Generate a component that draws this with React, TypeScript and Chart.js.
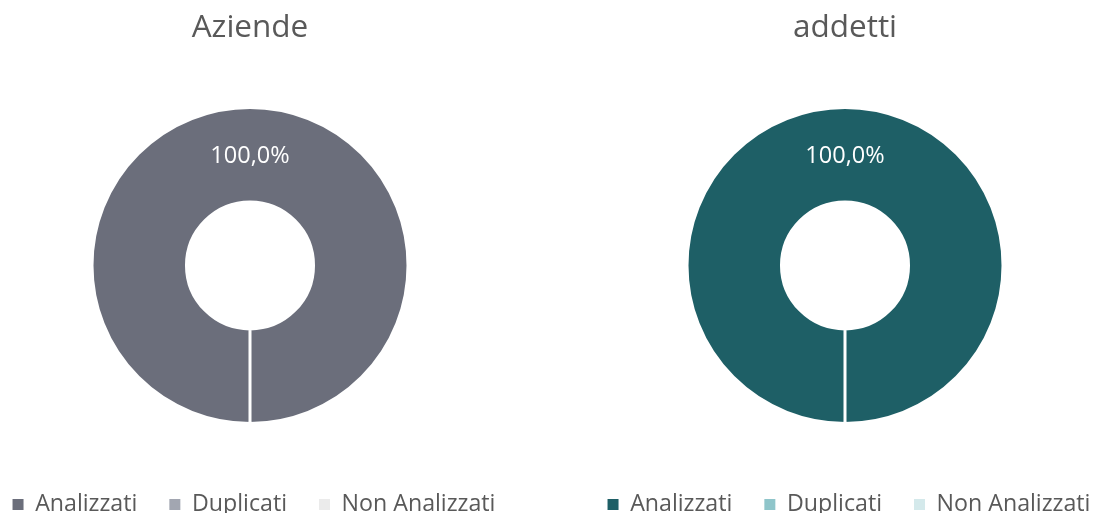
import React, { useEffect, useRef } from 'react';
import { Chart, registerables } from 'chart.js';

Chart.register(...registerables);

const categories = ['Analizzati', 'Duplicati', 'Non Analizzati'];
const aziendeValues = [100, 0, 0];
const addettiValues = [100, 0, 0];
const aziendeColors = ['#6b6e7b', '#a2a6b1', '#ebebeb'];
const addettiColors = ['#1e5f66', '#8fc5ca', '#d4e9eb'];
const chartTitles = ['Aziende', 'addetti'];

const FONT = "'Open Sans', 'Noto Sans', sans-serif";
const TEXT_COLOR = '#595959';

const dataLabelPlugin = {
  id: 'dataLabels',
  afterDatasetsDraw(chart: any) {
    const ctx = chart.ctx;
    const ds = chart.data.datasets[0];
    const values: number[] = ds.data as number[];
    const total = values.reduce((a, b) => a + b, 0);
    const meta = chart.getDatasetMeta(0);
    ctx.save();
    ctx.fillStyle = '#ffffff';
    ctx.font = `23.5px ${FONT}`;
    ctx.textAlign = 'center';
    ctx.textBaseline = 'middle';
    meta.data.forEach((arc: any, i: number) => {
      const v = values[i];
      if (!v) return;
      const pos = arc.tooltipPosition();
      const txt = ((v / total) * 100).toFixed(1).replace('.', ',') + '%';
      ctx.fillText(txt, pos.x, pos.y + 2);
    });
    ctx.restore();
  },
};

const legendShiftPlugin = {
  id: 'legendShift',
  afterLayout(chart: any) {
    if (chart.legend) {
      chart.legend.left += 4;
      chart.legend.right += 4;
    }
  },
};

function DoughnutPanel(props: { title: string; values: number[]; colors: string[]; left: number }) {
  const ref = useRef<HTMLCanvasElement | null>(null);
  useEffect(() => {
    if (!ref.current) return;
    const chart = new Chart(ref.current, {
      type: 'doughnut',
      data: {
        labels: categories,
        datasets: [
          {
            data: props.values,
            backgroundColor: props.colors,
            borderColor: '#ffffff',
            borderWidth: 3,
          },
        ],
      },
      options: {
        responsive: false,
        maintainAspectRatio: false,
        animation: false,
        devicePixelRatio: 1,
        events: [],
        rotation: 180,
        cutout: '40.2%',
        radius: 158,
        layout: { padding: 0 },
        plugins: {
          tooltip: { enabled: false },
          title: {
            display: true,
            text: props.title,
            color: TEXT_COLOR,
            font: { family: FONT, size: 31.5, weight: 'normal' },
            padding: { top: 9.5, bottom: 22.7 },
          },
          legend: {
            display: true,
            position: 'bottom',
            labels: {
              color: TEXT_COLOR,
              font: { family: FONT, size: 23.2 },
              boxWidth: 11,
              boxHeight: 11,
              padding: 32,
              generateLabels: (c: any) =>
                (Chart as any).overrides.doughnut.plugins.legend.labels
                  .generateLabels(c)
                  .map((l: any) => ({ ...l, lineWidth: 0, strokeStyle: 'rgba(0,0,0,0)' })),
            },
          },
        },
      } as any,
      plugins: [legendShiftPlugin, dataLabelPlugin],
    });
    return () => chart.destroy();
  }, []);
  return (
    <canvas
      ref={ref}
      width={580}
      height={526}
      style={{ position: 'absolute', left: props.left, top: 0, width: 580, height: 526 }}
    />
  );
}

export default function App() {
  return (
    <div
      style={{
        position: 'absolute',
        left: 0,
        top: 0,
        width: 1097,
        height: 513,
        overflow: 'hidden',
        background: '#ffffff',
      }}
    >
      <DoughnutPanel title={chartTitles[0]} values={aziendeValues} colors={aziendeColors} left={250 - 290} />
      <DoughnutPanel title={chartTitles[1]} values={addettiValues} colors={addettiColors} left={845 - 290} />
    </div>
  );
}
